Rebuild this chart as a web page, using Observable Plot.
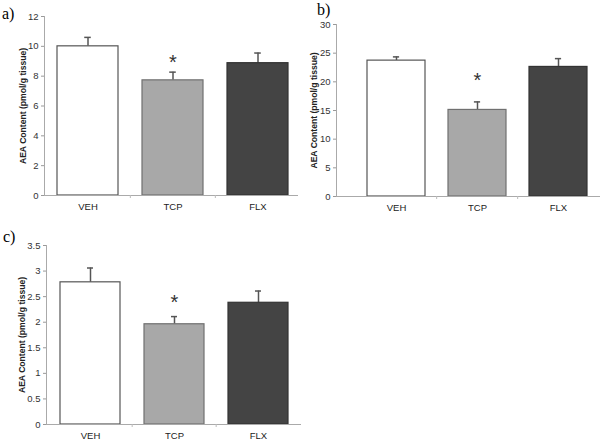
<!DOCTYPE html>
<html><head><meta charset="utf-8">
<script src="https://cdn.jsdelivr.net/npm/d3@7"></script>
<script src="https://cdn.jsdelivr.net/npm/@observablehq/plot@0.6"></script>
<style>
body{margin:0;background:#fff;}
#wrap{position:relative;width:605px;height:445px;background:#fff;overflow:hidden;}
.panel{position:absolute;}
.letter{position:absolute;font-family:"Liberation Serif","Times New Roman",serif;font-size:16px;color:#000;line-height:1;}
</style></head>
<body>
<div id="wrap">
  <div class="panel" id="pa" style="left:0;top:0"></div>
  <div class="panel" id="pb" style="left:300px;top:0"></div>
  <div class="panel" id="pc" style="left:0;top:220px"></div>
  <span class="letter" style="left:2px;top:6px">a)</span>
  <span class="letter" style="left:317px;top:2px">b)</span>
  <span class="letter" style="left:3px;top:229px">c)</span>
</div>
<script>
const categories = ["VEH", "TCP", "FLX"];
const meansA = [10.0, 7.72, 8.87];
const semA = [0.6, 0.55, 0.68];
const meansB = [23.7, 15.1, 22.6];
const semB = [0.65, 1.4, 1.45];
const meansC = [2.78, 1.96, 2.38];
const semC = [0.28, 0.15, 0.23];
const starA = 9.2, starB = 20.9, starC = 2.46;
const ticksA = [0, 2, 4, 6, 8, 10, 12];
const ticksB = [0, 5, 10, 15, 20, 25, 30];
const ticksC = [0, 0.5, 1, 1.5, 2, 2.5, 3, 3.5];
const yLabel = "AEA Content (pmol/g tissue)";

const fills = {VEH: "#ffffff", TCP: "#a8a8a8", FLX: "#444444"};
const strokes = {VEH: "#555555", TCP: "#707070", FLX: "#333333"};

function panel(el, means, sems, star, ticks, cfg) {
  const data = categories.map((c, i) => ({cat: c, v: means[i], e: sems[i]}));
  const step = (cfg.xr[1] - cfg.xr[0]) / 3;
  const bw = step * 0.72;
  const capInset = (bw - 7) / 2;
  const p = Plot.plot({
    width: cfg.width, height: cfg.height,
    marginLeft: cfg.ml, marginRight: cfg.mr, marginTop: cfg.mt, marginBottom: cfg.mb,
    style: {fontFamily: "'Liberation Sans', Arial, sans-serif", fontSize: "9.5px", color: "#222", background: "transparent"},
    x: {domain: categories, range: cfg.xr, paddingInner: 0.28, paddingOuter: 0.14, label: null},
    y: {domain: [0, ticks[ticks.length - 1]], ticks: ticks, label: null},
    marks: [
      Plot.ruleX(data, {x: "cat", y1: d => d.v, y2: d => d.v + d.e, stroke: "#555", strokeWidth: 1.5}),
      Plot.tickY(data, {x: "cat", y: d => d.v + d.e, stroke: "#555", strokeWidth: 1.5, insetLeft: capInset, insetRight: capInset}),
      Plot.barY(data, {x: "cat", y: "v", fill: d => fills[d.cat], stroke: d => strokes[d.cat], strokeWidth: 1.2}),
      Plot.text([star], {x: () => "TCP", y: d => d, text: () => "*", fontSize: 20, fill: "#333", dy: 4}),
      Plot.frame({anchor: "left", stroke: "#aaa"}),
      Plot.ruleY([0], {stroke: "#aaa"}),
      Plot.ruleX(categories.slice(1), {x: d => d, dx: -step / 2, y1: 0, y2: 0, insetTop: 3, stroke: "#bbb"}),
      Plot.axisY({ticks: ticks, tickSize: 3, tickPadding: 3, stroke: "#999", tickFormat: d => String(d), fill: "#333",
        label: yLabel, labelAnchor: "center", labelOffset: cfg.lo, labelArrow: "none"}),
      Plot.axisX({tickSize: 0, tickPadding: 8, fill: "#222"})
    ]
  });
  p.querySelectorAll("g[aria-label='y-axis label'] text").forEach(t => { t.setAttribute("font-weight", "bold"); t.setAttribute("font-size", "8.6px"); t.setAttribute("fill", "#222"); });
  document.getElementById(el).appendChild(p);
}

panel("pa", meansA, semA, starA, ticksA, {width: 303, height: 220, ml: 44, mr: 5, mt: 16, mb: 25, xr: [45, 301], lo: 25});
panel("pb", meansB, semB, starB, ticksB, {width: 305, height: 220, ml: 36, mr: 5, mt: 24, mb: 24, xr: [55, 300], lo: 26});
panel("pc", meansC, semC, starC, ticksC, {width: 303, height: 225, ml: 46, mr: 2, mt: 25, mb: 21, xr: [47, 301], lo: 28});
</script>
</body></html>
